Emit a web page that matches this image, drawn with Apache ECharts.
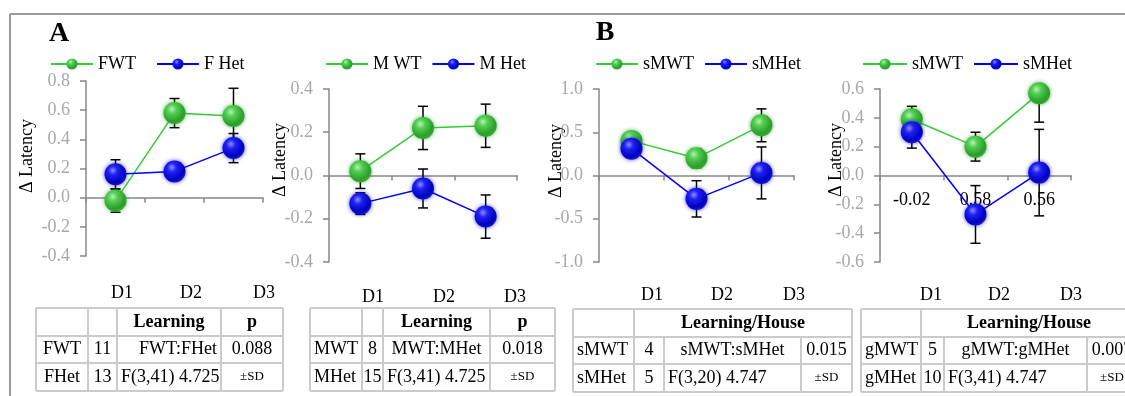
<!DOCTYPE html>
<html>
<head>
<meta charset="utf-8">
<script src="https://cdn.jsdelivr.net/npm/echarts@6/dist/echarts.min.js"></script>
<style>
  html, body { margin: 0; padding: 0; background: #fff; }
  #chart { width: 1125px; height: 396px; }
</style>
</head>
<body>
<div id="chart"></div>
<script>
// ---- data -------------------------------------------------------------
const days = ['D1', 'D2', 'D3'];

// A, left: females
const fwt = [-0.02, 0.58, 0.56];
const fwtSd = [0.08, 0.10, 0.19];
const fhet = [0.16, 0.18, 0.34];
const fhetSd = [0.10, 0.03, 0.10];

// A, right: males
const mwt = [0.02, 0.22, 0.23];
const mwtSd = [0.08, 0.10, 0.10];
const mhet = [-0.13, -0.06, -0.19];
const mhetSd = [0.05, 0.09, 0.10];

// B, left
const smwt = [0.40, 0.20, 0.58];
const smwtSd = [0.05, 0.11, 0.19];
const smhet = [0.31, -0.27, 0.03];
const smhetSd = [0.06, 0.21, 0.30];

// B, right
const gmwt = [0.39, 0.20, 0.57];
const gmwtSd = [0.09, 0.10, 0.20];
const gmhet = [0.30, -0.27, 0.02];
const gmhetSd = [0.11, 0.20, 0.30];

// y-axis ranges: [min, max, step]
const yRangeA = [-0.4, 0.8, 0.2];
const yRangeB = [-0.4, 0.4, 0.2];
const yRangeC = [-1.0, 1.0, 0.5];
const yRangeD = [-0.6, 0.6, 0.2];

// legend / series names
const namesA = ['FWT', 'F Het'];
const namesB = ['M WT', 'M Het'];
const namesC = ['sMWT', 'sMHet'];
const namesD = ['sMWT', 'sMHet'];

// statistics tables
const tableA = [['', '', 'Learning', 'p'],
                ['FWT', '11', 'FWT:FHet', '0.088'],
                ['FHet', '13', 'F(3,41) 4.725', '±SD']];
const tableB = [['', '', 'Learning', 'p'],
                ['MWT', '8', 'MWT:MHet', '0.018'],
                ['MHet', '15', 'F(3,41) 4.725', '±SD']];
const tableC = [['', 'Learning/House'],
                ['sMWT', '4', 'sMWT:sMHet', '0.015'],
                ['sMHet', '5', 'F(3,20) 4.747', '±SD']];
const tableD = [['', 'Learning/House'],
                ['gMWT', '5', 'gMWT:gMHet', '0.007'],
                ['gMHet', '10', 'F(3,41) 4.747', '±SD']];

// ---- styling & layout ---------------------------------------------------
const FONT = "'Liberation Serif', 'Times New Roman', serif";
const AXIS_GRAY = '#878787';
const LABEL_GRAY = '#a8a8a8';
const GREEN = '#33cc33';
const BLUE = '#0000ff';

const grids = [
  { left: 86,  top: 81, width: 177, height: 175 },
  { left: 329, top: 89, width: 188, height: 173 },
  { left: 599, top: 89, width: 195, height: 173 },
  { left: 880, top: 89, width: 191, height: 173 }
];

const greenBall = {
  type: 'radial', x: 0.38, y: 0.32, r: 0.7,
  colorStops: [
    { offset: 0, color: '#b4f2b4' },
    { offset: 0.3, color: '#52cf52' },
    { offset: 0.8, color: '#2c9e2c' },
    { offset: 1, color: '#3aa83a' }
  ]
};
const blueBall = {
  type: 'radial', x: 0.38, y: 0.32, r: 0.7,
  colorStops: [
    { offset: 0, color: '#8c8cff' },
    { offset: 0.3, color: '#2020f5' },
    { offset: 0.8, color: '#0000c0' },
    { offset: 1, color: '#1818c8' }
  ]
};

function lineSeries(name, data, idx, color, ball, shadow) {
  return {
    type: 'line', name, data,
    xAxisIndex: idx, yAxisIndex: idx,
    symbol: 'circle', symbolSize: 22,
    lineStyle: { color, width: 1.5 },
    itemStyle: { color: ball, shadowBlur: 4, shadowColor: shadow },
    emphasis: { disabled: true },
    z: 3, animation: false
  };
}

function errorSeries(means, sds, idx) {
  return {
    type: 'custom',
    xAxisIndex: idx, yAxisIndex: idx,
    clip: true, silent: true, z: 2, animation: false,
    data: means.map((m, i) => [i, m - sds[i], m + sds[i]]),
    encode: { x: 0, y: [1, 2] },
    renderItem(params, api) {
      const lo = api.coord([api.value(0), api.value(1)]);
      const hi = api.coord([api.value(0), api.value(2)]);
      const x = lo[0], w = 5;
      const st = { stroke: '#000', lineWidth: 1.5 };
      return {
        type: 'group',
        children: [
          { type: 'line', shape: { x1: x, y1: lo[1], x2: x, y2: hi[1] }, style: st },
          { type: 'line', shape: { x1: x - w, y1: lo[1], x2: x + w, y2: lo[1] }, style: st },
          { type: 'line', shape: { x1: x - w, y1: hi[1], x2: x + w, y2: hi[1] }, style: st }
        ]
      };
    }
  };
}

function xAxis(idx) {
  return {
    type: 'category', gridIndex: idx, data: days, boundaryGap: true,
    axisLine: { onZero: true, lineStyle: { color: AXIS_GRAY, width: 1.5 } },
    axisTick: { show: true, length: 5, lineStyle: { color: AXIS_GRAY, width: 1.5 } },
    axisLabel: { show: false },
    splitLine: { show: false }
  };
}

function yAxis(idx, range) {
  return {
    type: 'value', gridIndex: idx,
    min: range[0], max: range[1], interval: range[2],
    axisLine: { show: true, lineStyle: { color: AXIS_GRAY, width: 1.5 } },
    axisTick: { show: true, length: 6, lineStyle: { color: AXIS_GRAY, width: 1.5 } },
    axisLabel: {
      margin: 16, color: LABEL_GRAY, fontSize: 18, fontFamily: FONT,
      formatter: v => (Math.abs(v) < 1e-9 ? 0 : v).toFixed(1)
    },
    splitLine: { show: false }
  };
}

function legend(names, left, gap, width) {
  return {
    data: names, left, top: 55, orient: 'horizontal',
    itemWidth: width, itemHeight: 14, itemGap: gap, padding: 0,
    selectedMode: false,
    textStyle: { color: '#000', fontSize: 18, fontFamily: FONT }
  };
}

// ---- tables (drawn as graphic elements) ---------------------------------
const tableLayouts = [
  { cols: [36, 88, 117, 221, 283], rows: [308, 336, 363, 391], merged: false,
    align: [['center', 'center', 'center', 'center'],
            ['center', 'center', 'right', 'center'],
            ['center', 'center', 'left', 'center']] },
  { cols: [310, 362, 383, 490, 555], rows: [308, 336, 363, 391], merged: false,
    align: [['left', 'center', 'center', 'center'],
            ['left', 'center', 'center', 'center'],
            ['left', 'center', 'left', 'center']] },
  { cols: [573, 634, 664, 801, 852], rows: [309, 337, 364, 392], merged: true,
    align: [['left', 'center'],
            ['left', 'center', 'center', 'center'],
            ['left', 'center', 'left', 'center']] },
  { cols: [861, 921, 944, 1087, 1137], rows: [309, 337, 364, 392], merged: true,
    align: [['left', 'center'],
            ['left', 'center', 'center', 'center'],
            ['left', 'center', 'left', 'center']] }
];

function tableGraphics(text, layout) {
  const { cols, rows, merged, align } = layout;
  const last = cols[cols.length - 1];
  const stroke = { stroke: '#cbcbcb', lineWidth: 2 };
  const out = [];
  rows.forEach(y => out.push({ type: 'line', shape: { x1: cols[0], y1: y, x2: last, y2: y }, style: stroke }));
  for (let r = 0; r < rows.length - 1; r++) {
    const xs = (r === 0 && merged) ? [cols[0], cols[1], last] : cols;
    xs.forEach(x => out.push({ type: 'line', shape: { x1: x, y1: rows[r], x2: x, y2: rows[r + 1] }, style: stroke }));
  }
  text.forEach((row, r) => {
    const xs = (r === 0 && merged) ? [cols[0], cols[1], last] : cols;
    row.forEach((t, c) => {
      if (!t) return;
      const a = align[r][c];
      const x = a === 'left' ? xs[c] + 4 : a === 'right' ? xs[c + 1] - 4 : (xs[c] + xs[c + 1]) / 2;
      const small = t === '±SD';
      out.push({
        type: 'text', x, y: (rows[r] + rows[r + 1]) / 2,
        style: {
          text: t, align: a, verticalAlign: 'middle', fill: '#000',
          font: (r === 0 ? 'bold ' : '') + (small ? '13px ' : '18px ') + FONT
        }
      });
    });
  });
  return out;
}

// ---- other text ----------------------------------------------------------
function textEl(t, x, y, font, extra) {
  return Object.assign({
    type: 'text', x, y,
    style: { text: t, fill: '#000', font, align: 'center', verticalAlign: 'middle' }
  }, extra || {});
}

const dayRows = [
  { xs: [122, 191, 264], y: 293 },
  { xs: [373, 444, 515], y: 297 },
  { xs: [652, 722, 794], y: 295 },
  { xs: [931, 999, 1071], y: 295 }
];
const latencyTitles = [[27, 156], [280, 160], [556, 161], [836, 160]];

const graphics = [
  { type: 'line', shape: { x1: 10, y1: 14, x2: 1125, y2: 14 }, style: { stroke: '#9a9a9a', lineWidth: 2 } },
  { type: 'line', shape: { x1: 10, y1: 14, x2: 10, y2: 396 }, style: { stroke: '#9a9a9a', lineWidth: 2 } },
  textEl('A', 59, 34, 'bold 28px ' + FONT),
  textEl('B', 605, 33, 'bold 28px ' + FONT)
];
latencyTitles.forEach(([x, y]) => graphics.push(
  textEl('Δ Latency', x, y, '18px ' + FONT, { rotation: Math.PI / 2, z: 100 })));
dayRows.forEach(row => row.xs.forEach((x, i) => graphics.push(textEl(days[i], x, row.y, '18px ' + FONT))));
[tableA, tableB, tableC, tableD].forEach((t, i) => graphics.push(...tableGraphics(t, tableLayouts[i])));

// ---- chart ---------------------------------------------------------------
const chart = echarts.init(document.getElementById('chart'), null, { renderer: 'canvas' });
chart.setOption({
  animation: false,
  backgroundColor: '#fff',
  grid: grids,
  xAxis: [xAxis(0), xAxis(1), xAxis(2), xAxis(3)],
  yAxis: [yAxis(0, yRangeA), yAxis(1, yRangeB), yAxis(2, yRangeC), yAxis(3, yRangeD)],
  legend: [
    legend(namesA, 50, 20, 42),
    legend(namesB, 325, 10, 42),
    legend(namesC, 595, 10, 42),
    legend(namesD, 862, 10, 44)
  ],
  series: [
    errorSeries(fwt, fwtSd, 0), errorSeries(fhet, fhetSd, 0),
    lineSeries(namesA[0], fwt, 0, GREEN, greenBall, 'rgba(30,150,30,0.7)'),
    lineSeries(namesA[1], fhet, 0, BLUE, blueBall, 'rgba(0,0,200,0.7)'),

    errorSeries(mwt, mwtSd, 1), errorSeries(mhet, mhetSd, 1),
    lineSeries(namesB[0], mwt, 1, GREEN, greenBall, 'rgba(30,150,30,0.7)'),
    lineSeries(namesB[1], mhet, 1, BLUE, blueBall, 'rgba(0,0,200,0.7)'),

    errorSeries(smwt, smwtSd, 2), errorSeries(smhet, smhetSd, 2),
    lineSeries(namesC[0], smwt, 2, GREEN, greenBall, 'rgba(30,150,30,0.7)'),
    lineSeries(namesC[1], smhet, 2, BLUE, blueBall, 'rgba(0,0,200,0.7)'),

    errorSeries(gmwt, gmwtSd, 3), errorSeries(gmhet, gmhetSd, 3),
    lineSeries(namesD[0], gmwt, 3, GREEN, greenBall, 'rgba(30,150,30,0.7)'),
    lineSeries(namesD[1], gmhet, 3, BLUE, blueBall, 'rgba(0,0,200,0.7)')
  ],
  graphic: graphics
});

// The right-hand panel carries the FWT means as category labels just under its zero line,
// drawn beneath the markers.
const zeroY = chart.convertToPixel({ yAxisIndex: 3 }, 0);
const meanLabels = days.map((d, i) =>
  textEl(fwt[i].toFixed(2), chart.convertToPixel({ xAxisIndex: 3 }, d), zeroY + 25,
         '18px ' + FONT, { z: 1 }));
chart.setOption({ graphic: graphics.concat(meanLabels) });
</script>
</body>
</html>
